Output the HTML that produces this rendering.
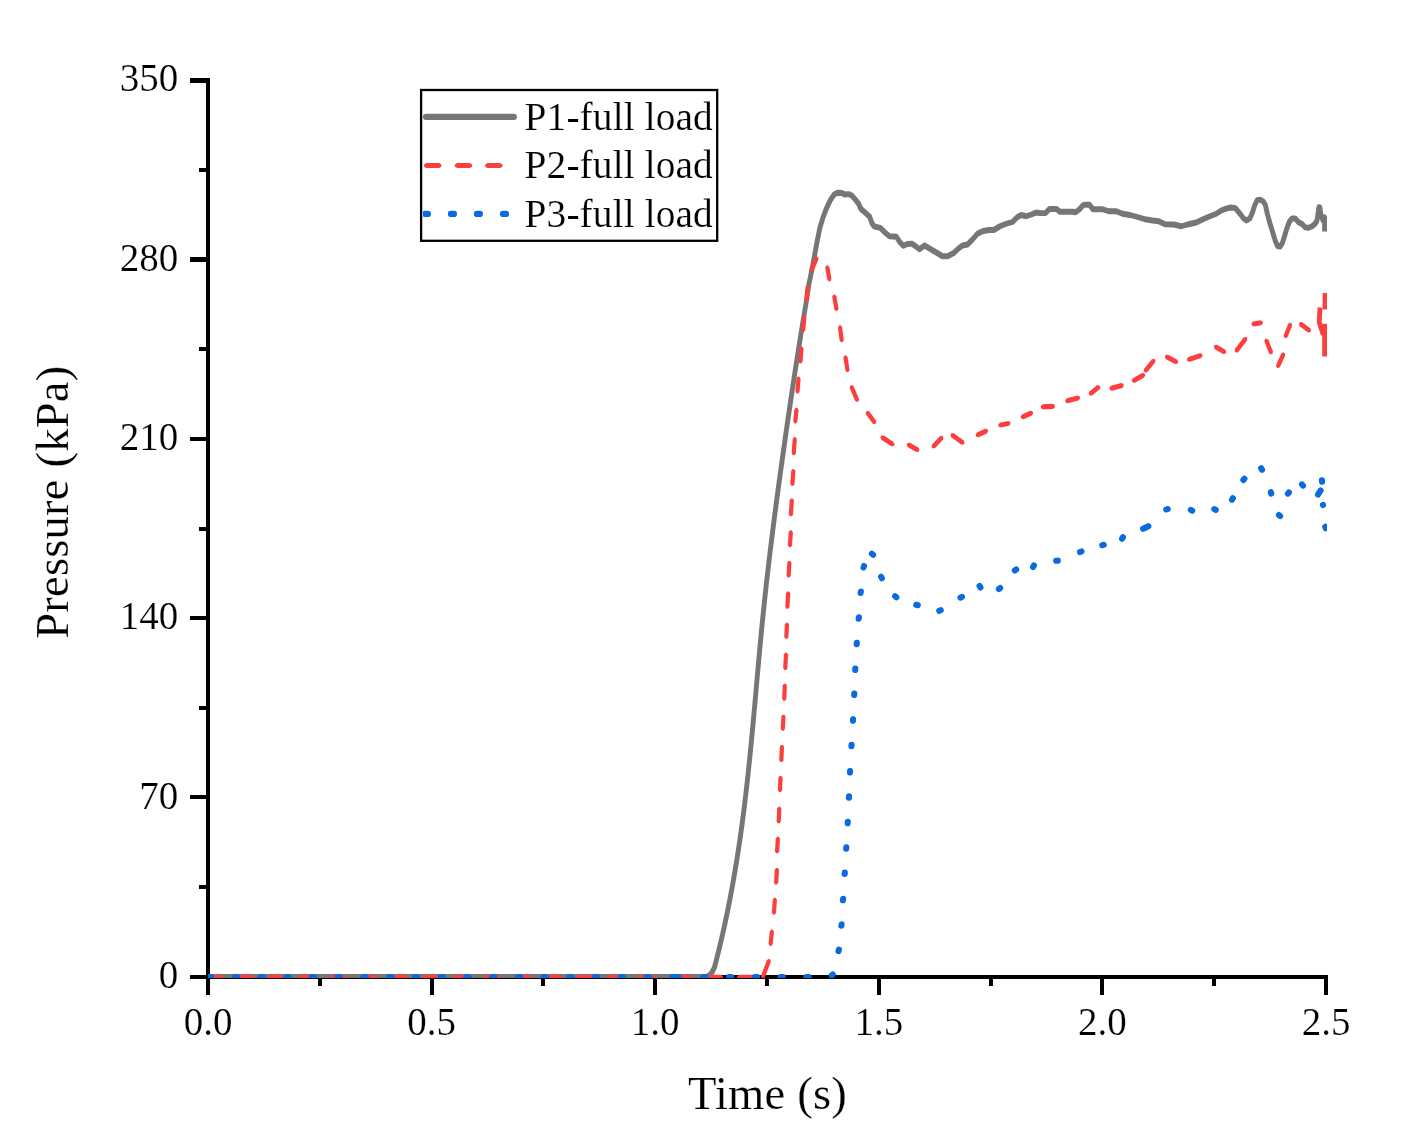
<!DOCTYPE html>
<html><head><meta charset="utf-8"><title>Pressure chart</title>
<style>
html,body{margin:0;padding:0;background:#fff;}
body{width:1410px;height:1148px;overflow:hidden;position:relative;font-family:"Liberation Serif",serif;}
svg{will-change:transform;position:absolute;left:0;top:0;display:block;}
text{font-family:"Liberation Serif",serif;fill:#000;stroke:#fff;stroke-width:0.2px;paint-order:fill stroke;}
.tick{font-size:39px;}
.ttl{font-size:46.6px;letter-spacing:0.2px;}
.leg{font-size:39.4px;letter-spacing:0.1px;}
</style></head><body>
<svg width="1410" height="1148" viewBox="0 0 1410 1148">
<rect x="0" y="0" width="1410" height="1148" fill="#fff"/>
<defs><clipPath id="plot"><rect x="208" y="60" width="1119" height="918"/></clipPath></defs>

<g fill="#000" shape-rendering="crispEdges">
<rect x="206" y="78" width="4" height="917"/>
<rect x="206" y="975" width="1122" height="4"/>
<rect x="190" y="78" width="17" height="5"/>
<rect x="190" y="257" width="17" height="5"/>
<rect x="190" y="437" width="17" height="4"/>
<rect x="190" y="616" width="17" height="4"/>
<rect x="190" y="794.6" width="17" height="4.399999999999977"/>
<rect x="190" y="975" width="17" height="4"/>
<rect x="199" y="168" width="8" height="4"/>
<rect x="199" y="347" width="8" height="4"/>
<rect x="199" y="527" width="8" height="4"/>
<rect x="199" y="706" width="8" height="4"/>
<rect x="199" y="885" width="8" height="4"/>
<rect x="206" y="977" width="4" height="18"/>
<rect x="430" y="977" width="4" height="18"/>
<rect x="653" y="977" width="4" height="18"/>
<rect x="877" y="977" width="4" height="18"/>
<rect x="1100" y="977" width="4" height="18"/>
<rect x="1324" y="977" width="4" height="18"/>
<rect x="318" y="977" width="4" height="9"/>
<rect x="541" y="977" width="4" height="9"/>
<rect x="765" y="977" width="4" height="9"/>
<rect x="989" y="977" width="4" height="9"/>
<rect x="1212" y="977" width="4" height="9"/>
</g>
<text class="tick" x="178.2" y="90.8" text-anchor="end">350</text>
<text class="tick" x="178.2" y="270.9" text-anchor="end">280</text>
<text class="tick" x="178.2" y="450.2" text-anchor="end">210</text>
<text class="tick" x="178.2" y="628.7" text-anchor="end">140</text>
<text class="tick" x="178.2" y="808.8" text-anchor="end">70</text>
<text class="tick" x="178.2" y="988.1" text-anchor="end">0</text>
<text class="tick" x="208.0" y="1035" text-anchor="middle">0.0</text>
<text class="tick" x="431.6" y="1035" text-anchor="middle">0.5</text>
<text class="tick" x="655.2" y="1035" text-anchor="middle">1.0</text>
<text class="tick" x="878.8" y="1035" text-anchor="middle">1.5</text>
<text class="tick" x="1102.4" y="1035" text-anchor="middle">2.0</text>
<text class="tick" x="1326.0" y="1035" text-anchor="middle">2.5</text>
<text class="ttl" x="767.5" y="1109" text-anchor="middle">Time (s)</text>
<text class="ttl" transform="translate(67.8,502.2) rotate(-90)" text-anchor="middle">Pressure (kPa)</text>
<g clip-path="url(#plot)" fill="none">
<polyline transform="scale(1,1.2)" points="208.00,814.167 705.50,814.167 708.00,813.500 710.30,812.083 712.20,810.000 714.40,806.333 716.23,800.583 719.21,790.583 722.04,780.583 724.71,770.583 727.25,760.583 729.64,750.583 731.90,740.583 734.04,730.583 736.06,720.583 737.96,710.583 739.76,700.583 741.46,690.583 743.06,680.583 744.57,670.583 746.00,660.583 747.36,650.583 748.65,640.583 749.88,630.583 751.07,620.583 752.21,610.583 753.32,600.583 754.41,590.583 755.49,580.583 756.55,570.583 757.62,560.583 758.70,550.583 759.80,540.583 760.93,530.583 762.09,520.583 763.30,510.583 764.55,500.583 765.85,490.583 767.20,480.583 768.59,470.583 770.01,460.583 771.48,450.583 772.98,440.583 774.51,430.583 776.08,420.583 777.68,410.583 779.30,400.583 780.95,390.583 782.62,380.583 784.31,370.583 786.02,360.583 787.75,350.583 789.50,340.583 791.27,330.583 793.06,320.583 794.88,310.583 796.73,300.583 798.60,290.583 800.51,280.583 802.46,270.583 804.44,260.583 806.46,250.583 808.75,237.333 810.25,231.667 812.74,221.083 815.11,210.417 817.46,199.750 819.90,189.833 823.00,181.333 826.50,173.500 830.70,166.333 834.10,162.083 837.60,160.667 841.80,160.833 844.80,162.083 848.60,161.750 852.10,163.167 855.50,166.333 858.90,170.250 861.00,174.167 864.90,177.000 869.60,180.583 872.10,186.250 874.30,188.750 880.20,189.833 884.50,193.417 889.60,196.917 896.40,197.333 899.90,201.917 903.30,204.750 907.50,203.333 911.80,203.000 916.10,205.500 919.50,207.708 924.50,204.583 930.00,207.292 936.25,210.417 942.50,213.542 947.50,213.542 953.75,210.833 958.75,206.875 962.50,204.583 967.50,203.750 972.50,199.583 977.50,194.792 982.50,192.708 988.75,191.667 993.75,191.667 1000.00,188.542 1006.25,186.458 1012.50,185.000 1017.50,180.833 1021.25,179.167 1026.25,180.208 1031.25,178.750 1036.25,177.083 1040.00,177.583 1045.50,177.583 1049.40,174.167 1056.60,174.167 1060.00,176.500 1073.70,176.500 1075.50,177.000 1080.10,174.000 1082.70,171.250 1084.40,170.667 1089.50,170.667 1092.90,174.333 1096.25,174.417 1102.50,174.375 1108.75,176.042 1116.25,176.042 1122.50,178.125 1130.00,179.167 1137.50,180.833 1145.00,182.708 1152.50,183.750 1158.75,184.375 1165.00,186.875 1173.75,187.083 1181.25,188.542 1187.50,187.083 1196.25,185.417 1202.50,182.917 1210.00,180.208 1216.25,178.125 1221.25,175.417 1226.00,173.833 1231.10,172.917 1235.40,173.500 1239.70,177.750 1243.50,182.000 1246.50,183.750 1249.90,182.000 1252.50,177.000 1254.60,171.333 1257.20,166.750 1260.10,166.333 1263.10,167.750 1265.30,170.667 1267.40,178.417 1270.00,186.250 1272.90,194.083 1275.50,201.167 1277.60,205.083 1280.20,205.500 1282.30,202.667 1284.50,196.917 1287.00,189.833 1289.60,184.500 1292.10,182.000 1295.10,182.000 1298.50,185.167 1302.00,186.667 1305.40,189.500 1308.40,189.833 1311.80,188.750 1314.80,186.667 1316.90,184.167 1318.00,178.417 1318.90,172.750 1319.90,172.750 1320.70,178.417 1322.90,183.417 1324.60,181.083 1324.60,193.000" stroke="#767676" stroke-width="4.9" stroke-linejoin="round" stroke-linecap="butt"/>
<g fill="#FD3E3E" stroke="none">
<polygon points="206.30,978.54 208.30,979.94 220.90,979.94 222.90,978.54 222.90,976.26 220.90,974.86 208.30,974.86 206.30,976.26"/>
<polygon points="237.13,978.54 239.13,979.94 251.73,979.94 253.73,978.54 253.73,976.26 251.73,974.86 239.13,974.86 237.13,976.26"/>
<polygon points="267.96,978.54 269.96,979.94 282.56,979.94 284.56,978.54 284.56,976.26 282.56,974.86 269.96,974.86 267.96,976.26"/>
<polygon points="298.79,978.54 300.79,979.94 313.39,979.94 315.39,978.54 315.39,976.26 313.39,974.86 300.79,974.86 298.79,976.26"/>
<polygon points="329.62,978.54 331.62,979.94 344.22,979.94 346.22,978.54 346.22,976.26 344.22,974.86 331.62,974.86 329.62,976.26"/>
<polygon points="360.45,978.54 362.45,979.94 375.05,979.94 377.05,978.54 377.05,976.26 375.05,974.86 362.45,974.86 360.45,976.26"/>
<polygon points="391.28,978.54 393.28,979.94 405.88,979.94 407.88,978.54 407.88,976.26 405.88,974.86 393.28,974.86 391.28,976.26"/>
<polygon points="422.11,978.54 424.11,979.94 436.71,979.94 438.71,978.54 438.71,976.26 436.71,974.86 424.11,974.86 422.11,976.26"/>
<polygon points="452.94,978.54 454.94,979.94 467.54,979.94 469.54,978.54 469.54,976.26 467.54,974.86 454.94,974.86 452.94,976.26"/>
<polygon points="483.77,978.54 485.77,979.94 498.37,979.94 500.37,978.54 500.37,976.26 498.37,974.86 485.77,974.86 483.77,976.26"/>
<polygon points="514.60,978.54 516.60,979.94 529.20,979.94 531.20,978.54 531.20,976.26 529.20,974.86 516.60,974.86 514.60,976.26"/>
<polygon points="545.43,978.54 547.43,979.94 560.03,979.94 562.03,978.54 562.03,976.26 560.03,974.86 547.43,974.86 545.43,976.26"/>
<polygon points="576.26,978.54 578.26,979.94 590.86,979.94 592.86,978.54 592.86,976.26 590.86,974.86 578.26,974.86 576.26,976.26"/>
<polygon points="607.09,978.54 609.09,979.94 621.69,979.94 623.69,978.54 623.69,976.26 621.69,974.86 609.09,974.86 607.09,976.26"/>
<polygon points="637.92,978.54 639.92,979.94 652.52,979.94 654.52,978.54 654.52,976.26 652.52,974.86 639.92,974.86 637.92,976.26"/>
<polygon points="668.70,978.54 670.70,979.94 689.70,979.94 691.70,978.54 691.70,976.26 689.70,974.86 670.70,974.86 668.70,976.26"/>
<polygon points="706.20,978.54 708.20,979.94 720.80,979.94 722.80,978.54 722.80,976.26 720.80,974.86 708.20,974.86 706.20,976.26"/>
<polygon points="737.20,978.54 739.20,979.94 751.80,979.94 753.80,978.54 753.80,976.26 751.80,974.86 739.20,974.86 737.20,976.26"/>
<polygon points="763.20,978.65 765.00,977.28 770.79,962.02 770.42,959.66 768.65,958.85 766.85,960.22 761.06,975.48 761.43,977.84"/>
<polygon points="771.36,945.91 772.72,944.07 773.97,931.95 773.03,929.82 771.14,929.59 769.78,931.43 768.53,943.55 769.47,945.68"/>
<polygon points="774.74,914.63 776.04,912.73 776.92,900.12 775.90,898.03 774.01,897.87 772.71,899.77 771.83,912.38 772.85,914.47"/>
<polygon points="776.95,884.62 778.23,882.70 778.98,870.10 777.94,868.02 776.05,867.88 774.77,869.80 774.02,882.40 775.06,884.48"/>
<polygon points="777.95,853.37 779.23,851.45 779.98,838.85 778.94,836.77 777.05,836.63 775.77,838.55 775.02,851.15 776.06,853.23"/>
<polygon points="779.62,823.34 780.85,821.40 781.36,808.80 780.28,806.75 778.38,806.66 777.15,808.60 776.64,821.20 777.72,823.25"/>
<polygon points="780.86,792.10 782.10,790.16 782.61,778.05 781.53,776.00 779.64,775.90 778.40,777.84 777.89,789.95 778.97,792.00"/>
<polygon points="782.16,762.10 783.41,760.17 784.05,747.07 782.99,745.01 781.09,744.90 779.84,746.83 779.20,759.93 780.26,761.99"/>
<polygon points="783.66,730.86 784.92,728.93 785.54,716.83 784.49,714.76 782.59,714.64 781.33,716.57 780.71,728.67 781.76,730.74"/>
<polygon points="785.12,700.84 786.35,698.90 786.86,685.80 785.78,683.74 783.88,683.66 782.65,685.60 782.14,698.70 783.22,700.76"/>
<polygon points="786.16,670.10 787.41,668.17 788.05,654.82 786.99,652.76 785.09,652.65 783.84,654.58 783.20,667.93 784.26,669.99"/>
<polygon points="787.16,638.86 788.42,636.93 789.04,624.83 787.99,622.76 786.09,622.64 784.83,624.57 784.21,636.67 785.26,638.74"/>
<polygon points="788.20,608.86 789.47,606.95 790.24,593.59 789.19,591.52 787.30,591.39 786.03,593.30 785.26,606.66 786.31,608.73"/>
<polygon points="789.45,577.62 790.73,575.70 791.48,563.10 790.44,561.02 788.55,560.88 787.27,562.80 786.52,575.40 787.56,577.48"/>
<polygon points="790.74,547.13 792.04,545.23 792.92,532.62 791.90,530.53 790.01,530.37 788.71,532.27 787.83,544.88 788.85,546.97"/>
<polygon points="791.74,516.37 793.03,514.47 793.93,500.61 792.90,498.53 791.01,498.38 789.72,500.28 788.82,514.14 789.85,516.22"/>
<polygon points="793.24,485.88 794.54,483.98 795.42,471.37 794.40,469.28 792.51,469.12 791.21,471.02 790.33,483.63 791.35,485.72"/>
<polygon points="794.54,455.13 795.84,453.24 796.86,439.38 795.85,437.29 793.96,437.12 792.66,439.01 791.64,452.87 792.65,454.96"/>
<polygon points="796.07,423.41 797.41,421.55 798.53,410.19 797.57,408.07 795.68,407.84 794.34,409.70 793.22,421.06 794.18,423.18"/>
<polygon points="798.28,393.39 799.60,391.51 800.60,378.90 799.61,376.79 797.72,376.61 796.40,378.49 795.40,391.10 796.39,393.21"/>
<polygon points="801.28,363.39 802.60,361.51 803.60,348.90 802.61,346.79 800.72,346.61 799.40,348.49 798.40,361.10 799.39,363.21"/>
<polygon points="803.86,332.16 805.22,330.31 806.48,317.70 805.52,315.57 803.64,315.34 802.28,317.19 801.02,329.80 801.98,331.93"/>
<polygon points="806.95,302.18 808.33,300.36 809.85,287.74 808.94,285.59 807.05,285.32 805.67,287.14 804.15,299.76 805.06,301.91"/>
<polygon points="811.55,272.44 813.41,271.16 818.45,259.61 818.19,257.22 816.45,256.31 814.59,257.59 809.55,269.14 809.81,271.53"/>
<polygon points="826.03,265.66 825.24,267.88 827.36,279.77 828.86,281.49 830.72,281.09 831.51,278.87 829.39,266.98 827.89,265.26"/>
<polygon points="833.03,294.91 832.23,297.12 834.37,309.26 835.85,310.99 837.72,310.59 838.52,308.38 836.38,296.24 834.90,294.51"/>
<polygon points="838.86,325.60 837.97,327.77 839.61,340.39 841.01,342.19 842.89,341.90 843.78,339.73 842.14,327.11 840.74,325.31"/>
<polygon points="844.24,355.64 843.41,357.84 845.43,370.47 846.89,372.22 848.76,371.86 849.59,369.66 847.57,357.03 846.11,355.28"/>
<polygon points="850.06,385.97 849.79,388.36 855.09,400.65 856.95,401.94 858.69,401.03 858.96,398.64 853.66,386.35 851.80,385.06"/>
<polygon points="865.76,412.02 866.00,414.46 872.59,423.52 874.70,424.32 876.24,422.98 876.00,420.54 869.41,411.48 867.30,410.68"/>
<polygon points="880.44,437.51 881.47,439.78 891.21,446.21 893.52,446.15 894.56,444.24 893.53,441.97 883.79,435.54 881.48,435.60"/>
<polygon points="906.73,445.08 907.92,447.27 916.28,451.92 918.60,451.67 919.52,449.67 918.33,447.48 909.97,442.83 907.65,443.08"/>
<polygon points="932.96,448.53 935.17,448.02 942.92,439.69 943.43,437.27 942.04,435.72 939.83,436.23 932.08,444.56 931.57,446.98"/>
<polygon points="950.40,434.96 951.32,437.27 961.17,444.56 963.47,444.63 964.60,442.79 963.68,440.48 953.83,433.19 951.53,433.12"/>
<polygon points="976.32,436.69 978.61,437.15 986.85,433.49 988.20,431.40 987.43,429.31 985.14,428.85 976.90,432.51 975.55,434.60"/>
<polygon points="998.61,426.69 1000.82,427.62 1008.85,425.83 1010.55,424.04 1010.14,421.81 1007.93,420.88 999.90,422.67 998.20,424.46"/>
<polygon points="1021.32,418.69 1023.61,419.15 1031.85,415.49 1033.20,413.40 1032.43,411.31 1030.14,410.85 1021.90,414.51 1020.55,416.60"/>
<polygon points="1040.95,408.16 1043.02,409.44 1052.97,408.88 1054.90,407.37 1054.80,405.09 1052.73,403.81 1042.78,404.37 1040.85,405.88"/>
<polygon points="1065.66,402.44 1067.90,403.26 1078.46,400.38 1080.09,398.51 1079.59,396.31 1077.35,395.49 1066.79,398.37 1065.16,400.24"/>
<polygon points="1089.83,395.60 1092.11,395.41 1099.57,389.26 1100.37,386.91 1099.17,385.15 1096.89,385.34 1089.43,391.49 1088.63,393.84"/>
<polygon points="1109.92,389.94 1112.16,390.74 1122.24,387.89 1123.84,386.00 1123.33,383.81 1121.09,383.01 1111.01,385.86 1109.41,387.75"/>
<polygon points="1132.66,382.42 1134.97,382.65 1144.09,377.52 1145.27,375.32 1144.34,373.33 1142.03,373.10 1132.91,378.23 1131.73,380.43"/>
<polygon points="1145.22,372.59 1147.39,371.93 1155.12,362.54 1155.49,360.11 1154.03,358.66 1151.86,359.32 1144.13,368.71 1143.76,371.14"/>
<polygon points="1164.75,357.10 1165.99,359.26 1175.06,363.99 1177.37,363.67 1178.25,361.65 1177.01,359.49 1167.94,354.76 1165.63,355.08"/>
<polygon points="1187.48,361.19 1189.75,361.86 1201.13,357.94 1202.64,355.97 1202.02,353.81 1199.75,353.14 1188.37,357.06 1186.86,359.03"/>
<polygon points="1213.73,347.07 1214.89,349.27 1223.02,353.89 1225.34,353.67 1226.27,351.68 1225.11,349.48 1216.98,344.86 1214.66,345.08"/>
<polygon points="1236.15,352.69 1238.29,351.95 1246.96,340.63 1247.25,338.19 1245.75,336.81 1243.61,337.55 1234.94,348.87 1234.65,351.31"/>
<polygon points="1251.74,325.33 1253.90,326.40 1261.04,325.31 1262.84,323.63 1262.56,321.37 1260.40,320.30 1253.26,321.39 1251.46,323.07"/>
<polygon points="1264.82,339.22 1264.47,341.59 1269.01,353.16 1270.82,354.52 1272.58,353.68 1272.93,351.31 1268.39,339.74 1266.58,338.38"/>
<polygon points="1278.06,368.27 1279.94,367.03 1285.09,355.67 1284.86,353.27 1283.14,352.33 1281.26,353.57 1276.11,364.93 1276.34,367.33"/>
<polygon points="1285.78,338.33 1287.60,336.99 1292.11,325.80 1291.78,323.43 1290.02,322.57 1288.20,323.91 1283.69,335.10 1284.02,337.47"/>
<polygon points="1298.82,323.91 1299.71,326.23 1307.63,332.30 1309.92,332.41 1311.08,330.59 1310.19,328.27 1302.27,322.20 1299.98,322.09"/>
</g>
<g stroke="#FD3E3E" stroke-width="4.8" stroke-linecap="butt" stroke-linejoin="round">
<polyline points="1325,293 1325,309.5"/>
<polyline points="1320,307.5 1319.2,322 1323.3,335"/>
<polyline points="1324.6,323.8 1324.6,356.5"/>
</g>
<g stroke="#0A6AE0" stroke-width="6.1" stroke-linecap="round">
<line x1="209.00" y1="977.00" x2="211.20" y2="977.00"/>
<line x1="234.74" y1="977.00" x2="236.94" y2="977.00"/>
<line x1="260.48" y1="977.00" x2="262.68" y2="977.00"/>
<line x1="286.22" y1="977.00" x2="288.42" y2="977.00"/>
<line x1="311.96" y1="977.00" x2="314.16" y2="977.00"/>
<line x1="337.70" y1="977.00" x2="339.90" y2="977.00"/>
<line x1="363.44" y1="977.00" x2="365.64" y2="977.00"/>
<line x1="389.18" y1="977.00" x2="391.38" y2="977.00"/>
<line x1="414.92" y1="977.00" x2="417.12" y2="977.00"/>
<line x1="440.66" y1="977.00" x2="442.86" y2="977.00"/>
<line x1="466.40" y1="977.00" x2="468.60" y2="977.00"/>
<line x1="492.14" y1="977.00" x2="494.34" y2="977.00"/>
<line x1="517.88" y1="977.00" x2="520.08" y2="977.00"/>
<line x1="543.62" y1="977.00" x2="545.82" y2="977.00"/>
<line x1="569.36" y1="977.00" x2="571.56" y2="977.00"/>
<line x1="595.10" y1="977.00" x2="597.30" y2="977.00"/>
<line x1="620.84" y1="977.00" x2="623.04" y2="977.00"/>
<line x1="646.58" y1="977.00" x2="648.78" y2="977.00"/>
<line x1="672.25" y1="977.00" x2="678.65" y2="977.00"/>
<line x1="703.20" y1="977.00" x2="705.40" y2="977.00"/>
<line x1="729.00" y1="977.00" x2="731.20" y2="977.00"/>
<line x1="754.80" y1="977.00" x2="757.00" y2="977.00"/>
<line x1="780.60" y1="977.00" x2="782.80" y2="977.00"/>
<line x1="806.40" y1="977.00" x2="808.60" y2="977.00"/>
<line x1="831.61" y1="975.54" x2="832.79" y2="974.46"/>
<line x1="838.49" y1="951.17" x2="838.91" y2="949.63"/>
<line x1="841.36" y1="925.79" x2="841.64" y2="924.21"/>
<line x1="842.90" y1="900.29" x2="843.10" y2="898.71"/>
<line x1="844.68" y1="874.05" x2="844.82" y2="872.45"/>
<line x1="846.18" y1="848.80" x2="846.32" y2="847.20"/>
<line x1="847.69" y1="823.30" x2="847.81" y2="821.70"/>
<line x1="848.94" y1="797.80" x2="849.06" y2="796.20"/>
<line x1="849.94" y1="772.55" x2="850.06" y2="770.95"/>
<line x1="851.43" y1="746.30" x2="851.57" y2="744.70"/>
<line x1="852.93" y1="720.80" x2="853.07" y2="719.20"/>
<line x1="854.19" y1="695.05" x2="854.31" y2="693.45"/>
<line x1="855.19" y1="670.05" x2="855.31" y2="668.45"/>
<line x1="856.67" y1="644.30" x2="856.83" y2="642.70"/>
<line x1="858.65" y1="618.79" x2="858.85" y2="617.21"/>
<line x1="860.61" y1="593.04" x2="860.89" y2="591.46"/>
<line x1="863.48" y1="567.50" x2="864.02" y2="566.00"/>
<line x1="871.89" y1="553.74" x2="873.11" y2="554.76"/>
<line x1="881.10" y1="576.81" x2="881.90" y2="578.19"/>
<line x1="895.14" y1="596.24" x2="896.36" y2="597.26"/>
<line x1="916.23" y1="604.79" x2="917.77" y2="605.21"/>
<line x1="939.27" y1="610.84" x2="940.73" y2="610.16"/>
<line x1="960.56" y1="597.65" x2="961.94" y2="596.85"/>
<line x1="979.54" y1="586.09" x2="980.46" y2="587.41"/>
<line x1="998.84" y1="588.96" x2="1000.16" y2="588.04"/>
<line x1="1014.84" y1="570.46" x2="1016.16" y2="569.54"/>
<line x1="1033.04" y1="566.91" x2="1033.96" y2="565.59"/>
<line x1="1056.20" y1="560.82" x2="1057.80" y2="560.68"/>
<line x1="1080.02" y1="552.09" x2="1081.48" y2="551.41"/>
<line x1="1102.21" y1="545.14" x2="1103.79" y2="544.86"/>
<line x1="1122.04" y1="538.66" x2="1122.96" y2="537.34"/>
<line x1="1143.12" y1="528.84" x2="1148.38" y2="526.16"/>
<line x1="1166.21" y1="509.39" x2="1167.79" y2="509.11"/>
<line x1="1190.81" y1="509.85" x2="1192.19" y2="510.65"/>
<line x1="1214.31" y1="509.10" x2="1215.69" y2="509.90"/>
<line x1="1231.94" y1="499.66" x2="1232.86" y2="498.34"/>
<line x1="1243.39" y1="480.01" x2="1244.41" y2="478.79"/>
<line x1="1261.14" y1="468.34" x2="1262.06" y2="469.66"/>
<line x1="1270.79" y1="492.13" x2="1271.21" y2="493.67"/>
<line x1="1278.89" y1="514.99" x2="1280.11" y2="516.01"/>
<line x1="1287.89" y1="493.61" x2="1288.91" y2="492.39"/>
<line x1="1301.99" y1="484.39" x2="1303.01" y2="485.61"/>
<line x1="1321.93" y1="480.20" x2="1322.07" y2="481.80"/>
<line x1="1317.97" y1="494.55" x2="1320.63" y2="490.45"/>
<line x1="1322.96" y1="505.02" x2="1323.04" y2="504.98"/>
<line x1="1325.23" y1="526.75" x2="1325.77" y2="528.25"/>
</g></g>
<rect x="421.1" y="90" width="696" height="0" fill="none"/>
<rect x="421.1" y="90" width="296.1" height="150.8" fill="#fff" stroke="#000" stroke-width="2.3"/>
<line x1="426" y1="116.9" x2="513.9" y2="116.9" stroke="#767676" stroke-width="6.1" stroke-linecap="round"/>
<g fill="#FD3E3E" stroke="none">
<polygon points="424.10,166.69 426.30,168.09 439.10,168.09 441.30,166.69 441.30,164.41 439.10,163.01 426.30,163.01 424.10,164.41"/>
<polygon points="454.90,166.69 457.10,168.09 469.90,168.09 472.10,166.69 472.10,164.41 469.90,163.01 457.10,163.01 454.90,164.41"/>
<polygon points="485.20,166.69 487.40,168.09 500.20,168.09 502.40,166.69 502.40,164.41 500.20,163.01 487.40,163.01 485.20,164.41"/>
</g>
<g stroke="#0A6AE0" stroke-width="6.2" stroke-linecap="round"><g clip-path="url(#lclip)">
<line x1="424.95" y1="213.9" x2="427.84999999999997" y2="213.9"/>
<line x1="451.0" y1="213.9" x2="453.9" y2="213.9"/>
<line x1="477.0" y1="213.9" x2="479.9" y2="213.9"/>
<line x1="503.05" y1="213.9" x2="505.95" y2="213.9"/>
</g></g>
<defs><clipPath id="lclip"><rect x="423" y="200" width="200" height="30"/></clipPath></defs>
<text class="leg" x="524.6" y="130">P1-full load</text>
<text class="leg" x="524.6" y="178.4">P2-full load</text>
<text class="leg" x="524.6" y="226.6">P3-full load</text>
</svg></body></html>
